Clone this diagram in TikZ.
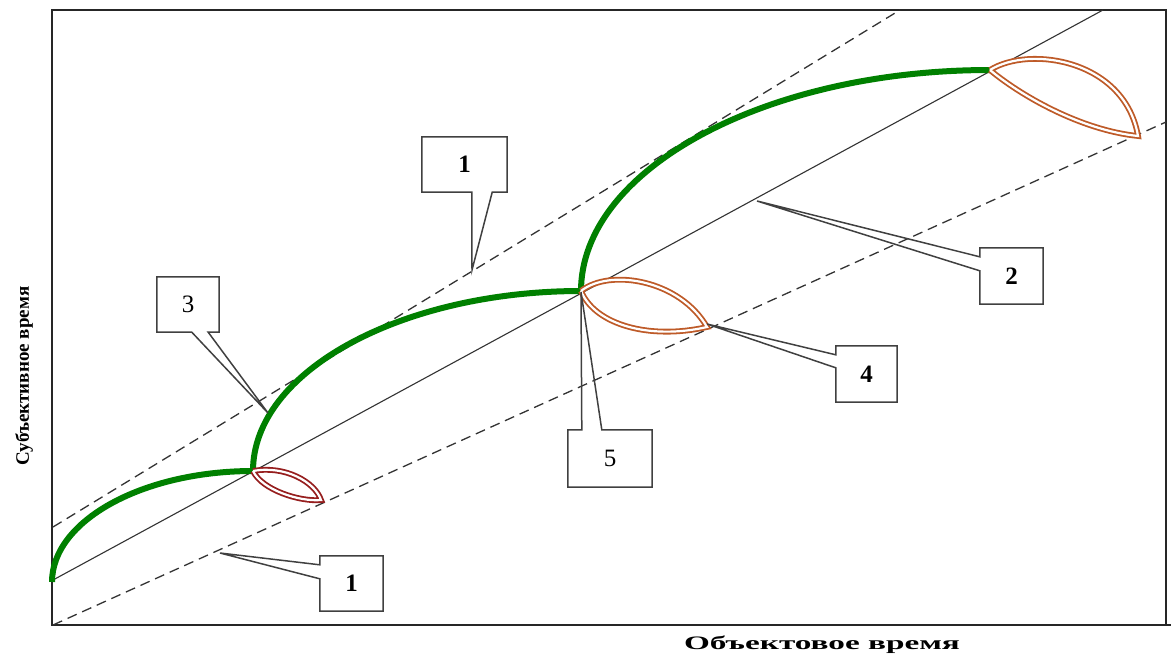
\documentclass[tikz,border=0pt]{standalone}
\usepackage{fontspec}
\setmainfont{Liberation Serif}
\usetikzlibrary{calc}
\definecolor{subjgreen}{RGB}{0,128,0}
\definecolor{loopred}{RGB}{150,30,30}
\definecolor{loopbrown}{RGB}{190,90,40}
\begin{document}
\begin{tikzpicture}[x=1pt,y=-1pt,
  frame/.style={draw=black!85, line width=1.8},
  guide/.style={draw=black!80, line width=1.3, dash pattern=on 10pt off 6pt},
  mainline/.style={draw=black!80, line width=1.1},
  subj/.style={draw=subjgreen, line width=6},
  smallloop/.style={draw=loopred, double=white, double distance=2.2, line width=1.8},
  bigloop/.style={draw=loopbrown, double=white, double distance=2.2, line width=1.8},
  callout/.style={draw=black!75, line width=1.5, line join=miter},
  lbl/.style={font=\fontsize{25}{25}\selectfont\bfseries, inner sep=0},
  lblr/.style={font=\fontsize{25}{25}\selectfont, inner sep=0},
  axis/.style={font=\fontsize{19}{19}\selectfont\bfseries, inner sep=0},
]
\useasboundingbox (0,0) rectangle (1171,657);

% frame
\coordinate (fnw) at (52,10);
\coordinate (fse) at (1166,625);
\coordinate (fsw) at (52,625);
\coordinate (fend) at (1171,625);
\draw[frame] (fnw) rectangle (fse);
\draw[frame] (fse) -- (fend);

% guide lines
\coordinate (ud0) at (53,527);
\coordinate (ud1) at (900,10);
\coordinate (sl0) at (53,580);
\coordinate (sl1) at (1103,10);
\coordinate (ld0) at (53,625);
\coordinate (ld1) at (1166,122);
\draw[guide] (ud0) -- (ud1);
\draw[mainline] (sl0) -- (sl1);
\draw[guide] (ld0) -- (ld1);

% subjective time curve
\coordinate (g0) at (52,582);
\coordinate (g1) at (253,471);
\coordinate (g2) at (581,291);
\coordinate (g3) at (990,70);
\draw[subj] (g0) .. controls (52,521) and (142,471) .. (g1)
            .. controls (253,371) and (402,291) .. (g2)
            .. controls (581,170) and (764,70) .. (g3);

% loops
\coordinate (s1) at (321,500);
\draw[smallloop] (g1) .. controls (285,465) and (315,482) .. (s1)
                 .. controls (300,502) and (262,490) .. (g1);
\coordinate (m1) at (707,327);
\draw[bigloop] (g2) .. controls (610,268) and (680,280) .. (m1)
               .. controls (650,340) and (595,325) .. (g2);
\coordinate (b1) at (1138,136);
\draw[bigloop] (g3) .. controls (1030,45) and (1125,60) .. (b1)
               .. controls (1080,130) and (1020,95) .. (g3);

% callouts
\node[lbl, minimum width=85, minimum height=55] (c1a) at (464.5,164.5) {1};
\coordinate (t1a) at (472,270);
\draw[callout] (t1a) -- ($(c1a.south west)+(50,0)$) -- (c1a.south west) -- (c1a.north west)
  -- (c1a.north east) -- (c1a.south east) -- ($(c1a.south east)+(-15,0)$) -- cycle;

\node[lblr, minimum width=62, minimum height=55] (c3) at (188,304.5) {3};
\coordinate (t3) at (268,413);
\draw[callout] (t3) -- ($(c3.south west)+(35,0)$) -- (c3.south west) -- (c3.north west)
  -- (c3.north east) -- (c3.south east) -- ($(c3.south east)+(-11,0)$) -- cycle;

\node[lbl, minimum width=63, minimum height=56] (c2) at (1011.5,276) {2};
\coordinate (t2) at (757,201);
\draw[callout] (t2) -- ($(c2.north west)+(0,9)$) -- (c2.north west) -- (c2.north east)
  -- (c2.south east) -- (c2.south west) -- ($(c2.north west)+(0,23)$) -- cycle;

\node[lbl, minimum width=61, minimum height=56] (c4) at (866.5,374) {4};
\coordinate (t4) at (707,324);
\draw[callout] (t4) -- ($(c4.north west)+(0,9)$) -- (c4.north west) -- (c4.north east)
  -- (c4.south east) -- (c4.south west) -- ($(c4.north west)+(0,22)$) -- cycle;

\node[lblr, minimum width=84, minimum height=57] (c5) at (610,458.5) {5};
\coordinate (t5) at (581,292);
\draw[callout] (t5) -- ($(c5.north west)+(14,0)$) -- (c5.north west) -- (c5.south west)
  -- (c5.south east) -- (c5.north east) -- ($(c5.north west)+(34,0)$) -- cycle;

\node[lbl, minimum width=63, minimum height=55] (c1b) at (351.5,583.5) {1};
\coordinate (t1b) at (220,553);
\draw[callout] (t1b) -- ($(c1b.north west)+(0,9)$) -- (c1b.north west) -- (c1b.north east)
  -- (c1b.south east) -- (c1b.south west) -- ($(c1b.north west)+(0,23)$) -- cycle;

% axis labels
\node[axis, rotate=90] (ylab) at (24,376) {Субъективное время};
\node[axis] (xlab) at (822,645) {\scalebox{1.75}[1]{Объектовое время}};
\end{tikzpicture}
\end{document}
